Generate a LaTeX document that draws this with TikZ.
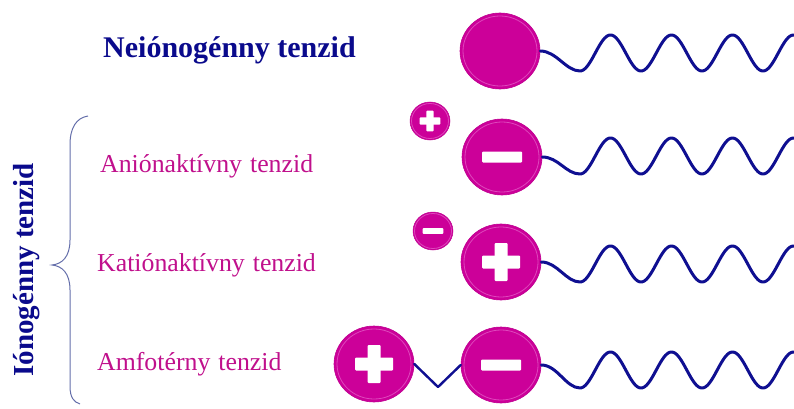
\documentclass[tikz,border=0pt]{standalone}
\usepackage{fontspec}
\setmainfont{Liberation Serif}
\usetikzlibrary{shapes.geometric,calc}
\definecolor{mag}{RGB}{204,0,153}
\definecolor{magring}{RGB}{222,70,188}
\definecolor{magdark}{RGB}{190,0,145}
\definecolor{navytext}{RGB}{10,10,140}
\definecolor{wavec}{RGB}{15,15,145}
\definecolor{pinktext}{RGB}{192,16,140}
\definecolor{bracec}{RGB}{100,110,170}
\newcommand\mytail[2]{%
  \draw[tail] (#1.east) .. controls ++(16,0) and (566,#2+18) .. (580,#2+18)
    -- plot[domain=580:810, samples=160] (\x,{#2+18*cos(5.9016*(\x-580))});}
\newcommand\myplus[2]{%
  \fill[white, rounded corners=1pt] ($(#1)+(-19*#2,-6.5*#2)$) rectangle ($(#1)+(19*#2,6.5*#2)$);
  \fill[white, rounded corners=1pt] ($(#1)+(-6.5*#2,-19*#2)$) rectangle ($(#1)+(6.5*#2,19*#2)$);}
\newcommand\myminus[2]{%
  \fill[white, rounded corners=1pt] ($(#1)+(-20*#2,-5.5*#2)$) rectangle ($(#1)+(20*#2,5.5*#2)$);}
\newcommand\myring[2]{%
  \draw[magring, line width=0.8pt] (#1.center) ellipse[x radius=37*#2 pt, y radius=35*#2 pt];}
\newcommand\lblfont{\fontsize{25.8}{28}\selectfont\spaceskip 8pt\relax}
\begin{document}
\begin{tikzpicture}[x=1pt,y=-1pt,
  bighead/.style={ellipse, fill=mag, draw=magdark, line width=0.6pt, minimum width=80pt, minimum height=76pt, inner sep=0pt},
  smallhead/.style={ellipse, fill=mag, draw=magdark, line width=0.5pt, minimum width=40pt, minimum height=38pt, inner sep=0pt},
  tail/.style={wavec, line width=3pt, line cap=round, line join=round},
  lbl/.style={pinktext, font=\lblfont, anchor=base west, inner sep=0pt},
  ttl/.style={navytext, font=\fontsize{30}{32}\selectfont\bfseries, inner sep=0pt}]
\useasboundingbox (0,0) rectangle (794,409);

% texts
\node[ttl, anchor=base] (t1) at (229.5,58) {Neiónogénny tenzid};
\node[lbl] (t2) at (100,172) {Aniónaktívny tenzid};
\node[lbl] (t3) at (97,271) {Katiónaktívny tenzid};
\node[lbl] (t4) at (97,370) {Amfotérny tenzid};
\node[navytext, font=\fontsize{29}{31}\selectfont\bfseries, inner sep=0pt, rotate=90, anchor=base] (t5) at (33,270) {Iónogénny tenzid};

% brace
\draw[bracec, line width=1pt] (88,116) .. controls (76,118) and (70,128) .. (70,145) -- (70,240)
  .. controls (70,257) and (62,264) .. (52,265)
  .. controls (62,266) and (70,273) .. (70,290) -- (70,386)
  .. controls (70,398) and (74,402) .. (80,404);

% heads
\node[bighead] (n1) at (500,51) {};
\node[smallhead] (s2) at (430,121) {};
\node[bighead] (n2) at (502,157) {};
\node[smallhead] (s3) at (433,231) {};
\node[bighead] (n3) at (501,262) {};
\node[bighead] (a4) at (374,364) {};
\node[bighead] (n4) at (501,365) {};

\foreach \h in {n1,n2,n3,a4,n4} {\myring{\h}{1}}
\foreach \h in {s2,s3} {\myring{\h}{0.5}}

% tails
\begin{scope}
\clip (0,0) rectangle (794,409);
\mytail{n1}{53}
\mytail{n2}{156}
\mytail{n3}{264}
\mytail{n4}{370}
\end{scope}
\coordinate (k4) at (438,387);
\draw[tail, line width=2.4pt] (a4.east) -- (k4) -- (n4.west);

% signs
\myminus{n2}{1}
\myplus{s2}{0.55}
\myplus{n3}{1}
\myminus{s3}{0.52}
\myplus{a4}{1}
\myminus{n4}{1}
\end{tikzpicture}
\end{document}
